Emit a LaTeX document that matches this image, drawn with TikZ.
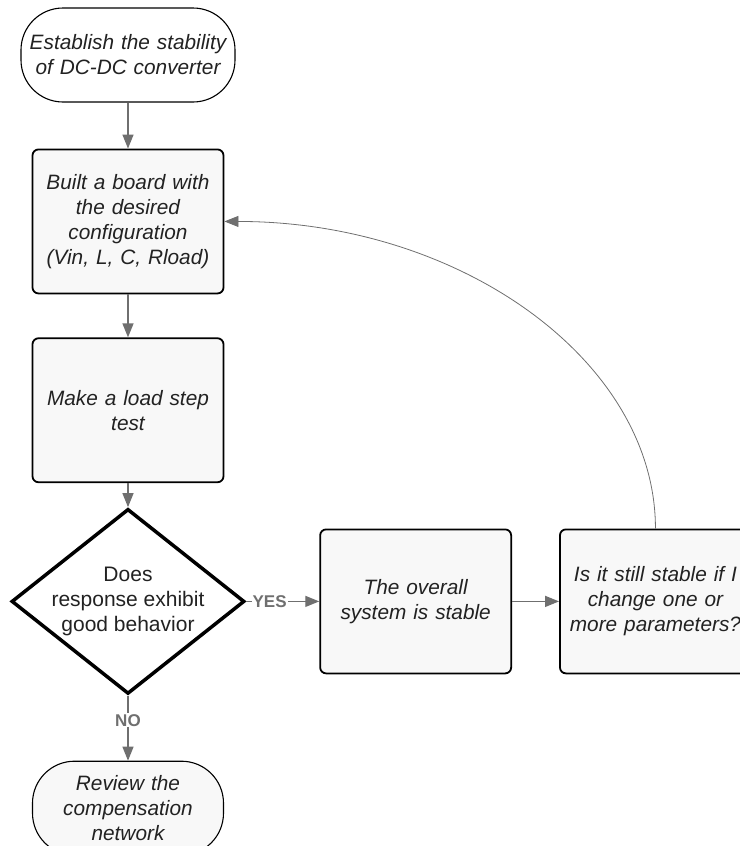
\documentclass[tikz,border=0pt]{standalone}
\usepackage{fontspec}
\setmainfont{Liberation Sans}
\usetikzlibrary{positioning, arrows.meta, shapes.geometric}

\definecolor{linegray}{HTML}{6F6F6F}
\definecolor{boxfill}{HTML}{F8F8F8}
\definecolor{textdark}{HTML}{222222}

\begin{document}
\begin{tikzpicture}[
    x=1pt, y=1pt,
    box/.style={
        rectangle,
        draw=black,
        line width=1.8pt,
        rounded corners=6pt,
        fill=boxfill,
        align=center,
        text=textdark,
        font=\fontsize{20.8}{25}\selectfont\itshape,
        text width=182pt,
        inner sep=4pt,
        minimum width=191pt,
        minimum height=144pt
    },
    terminal/.style={
        box,
        line width=1.1pt,
        rounded corners=42pt,
        minimum height=94pt
    },
    decision/.style={
        diamond,
        draw=black,
        line width=3.5pt,
        fill=white,
        align=center,
        text=textdark,
        font=\fontsize{21}{25}\selectfont,
        inner xsep=-10pt,
        inner ysep=-5pt,
        aspect=1.26,
        minimum width=233pt,
        minimum height=185pt
    },
    arrow/.style={
        -{Triangle[length=14pt, width=11pt]},
        draw=linegray,
        line width=1.4pt
    },
    answer/.style={
        font=\fontsize{17}{20}\selectfont\bfseries,
        text=linegray,
        fill=white,
        inner sep=1pt
    }
]

\useasboundingbox (-128,55) rectangle (611,-791);

%% Main column
\node[terminal, fill=white, text width=204pt, minimum width=214pt] (start) {Establish the stability\\of DC-DC converter};
\node[box, below=46pt of start] (board) {Built a board with\\the desired\\configuration\\(Vin, L, C, Rload)};
\node[box, below=43pt of board] (loadstep) {Make a load step\\test};
\node[decision, below=24pt of loadstep] (response) {Does\\response exhibit\\good behavior};
\node[terminal, below=65pt of response] (review) {Review the\\compensation\\network};

%% Right row
\node[box, right=73pt of response] (stable) {The overall\\system is stable};
\node[box, right=47pt of stable] (change) {Is it still stable if I\\change one or\\more parameters?};

%% Connections
\draw[arrow] (start) -- (board);
\draw[arrow] (board) -- (loadstep);
\draw[arrow] (loadstep) -- (response);
\draw[arrow] (response) -- node[answer, pos=0.38] {NO} (review);
\draw[arrow] (response) -- node[answer, pos=0.32] {YES} (stable);
\draw[arrow] (stable) -- (change);

%% Back to the board
\draw[arrow, line width=0.8pt] (change.north) .. controls +(0,167) and +(237,0) .. (board.east);

\end{tikzpicture}
\end{document}
